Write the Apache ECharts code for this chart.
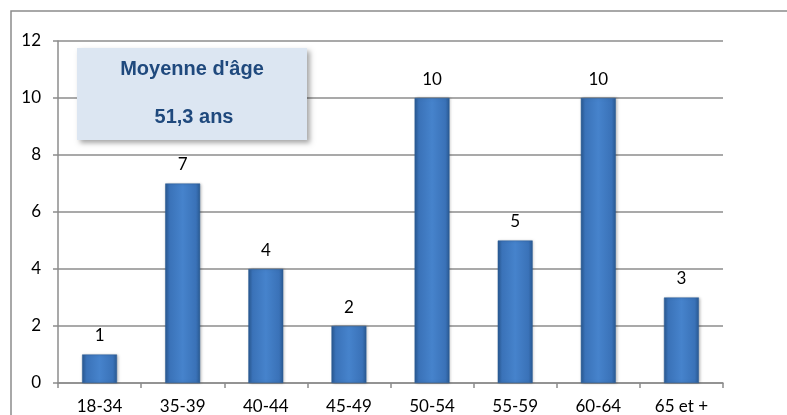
<!DOCTYPE html>
<html><head><meta charset="utf-8">
<script src="https://cdn.jsdelivr.net/npm/echarts@6/dist/echarts.min.js"></script>
<style>html,body{margin:0;padding:0;background:#fff}#c{width:787px;height:415px}</style>
</head><body><div id="c"></div>
<script>
const categories = ['18-34','35-39','40-44','45-49','50-54','55-59','60-64','65 et +'];
const counts = [1,7,4,2,10,5,10,3];
const yTicks = [0,2,4,6,8,10,12];
const boxTitle = "Moyenne d'âge";
const boxValue = '51,3 ans';

const chart = echarts.init(document.getElementById('c'));
const barColor = new echarts.graphic.LinearGradient(0,0,1,0,[
  {offset:0,color:'#2a5a93'},{offset:0.12,color:'#3a72b8'},{offset:0.5,color:'#4683cc'},{offset:0.88,color:'#3a72b8'},{offset:1,color:'#2a5a93'}
]);
const font = 'Lato, Open Sans, sans-serif';
chart.setOption({
  animation:false,
  grid:{left:58,right:64,top:41,bottom:32,containLabel:false},
  xAxis:{type:'category',data:categories,
    axisLine:{lineStyle:{color:'#8c8c8c',width:1.5}},
    axisTick:{show:true,length:5,lineStyle:{color:'#8c8c8c',width:1.5}},
    axisLabel:{color:'#000',fontFamily:font,fontSize:17,margin:15}},
  yAxis:{type:'value',min:0,max:12,interval:2,
    axisLine:{show:true,lineStyle:{color:'#8c8c8c',width:1.5}},
    axisTick:{show:true,length:5,lineStyle:{color:'#8c8c8c',width:1.5}},
    splitLine:{lineStyle:{color:'#8c8c8c',width:1.5}},
    axisLabel:{color:'#000',fontFamily:font,fontSize:17,margin:17,formatter:v=>yTicks.includes(v)?String(v):''}},
  series:[{type:'bar',data:counts,barWidth:'42%',
    itemStyle:{color:barColor,borderColor:'#2b5c96',borderWidth:0.5,shadowColor:'rgba(0,0,0,0.25)',shadowBlur:3,shadowOffsetX:1},
    label:{show:true,position:'top',distance:10,color:'#000',fontFamily:font,fontSize:17}
  }],
  graphic:[
    {type:'polyline',shape:{points:[[11,415],[11,11],[787,11]]},style:{stroke:'#8c8c8c',lineWidth:1.5,fill:null},z:10},
    {type:'rect',shape:{x:77,y:48,width:230,height:92},style:{fill:'#dce6f2',shadowColor:'rgba(0,0,0,0.35)',shadowBlur:5,shadowOffsetX:3,shadowOffsetY:3},z:20},
    {type:'text',x:192,y:69,style:{text:boxTitle,fill:'#1f497d',font:'bold 20px Liberation Sans, Arial, sans-serif',textAlign:'center',textVerticalAlign:'middle'},z:21},
    {type:'text',x:194,y:117,style:{text:boxValue,fill:'#1f497d',font:'bold 20px Liberation Sans, Arial, sans-serif',textAlign:'center',textVerticalAlign:'middle'},z:21}
  ]
});
</script></body></html>
